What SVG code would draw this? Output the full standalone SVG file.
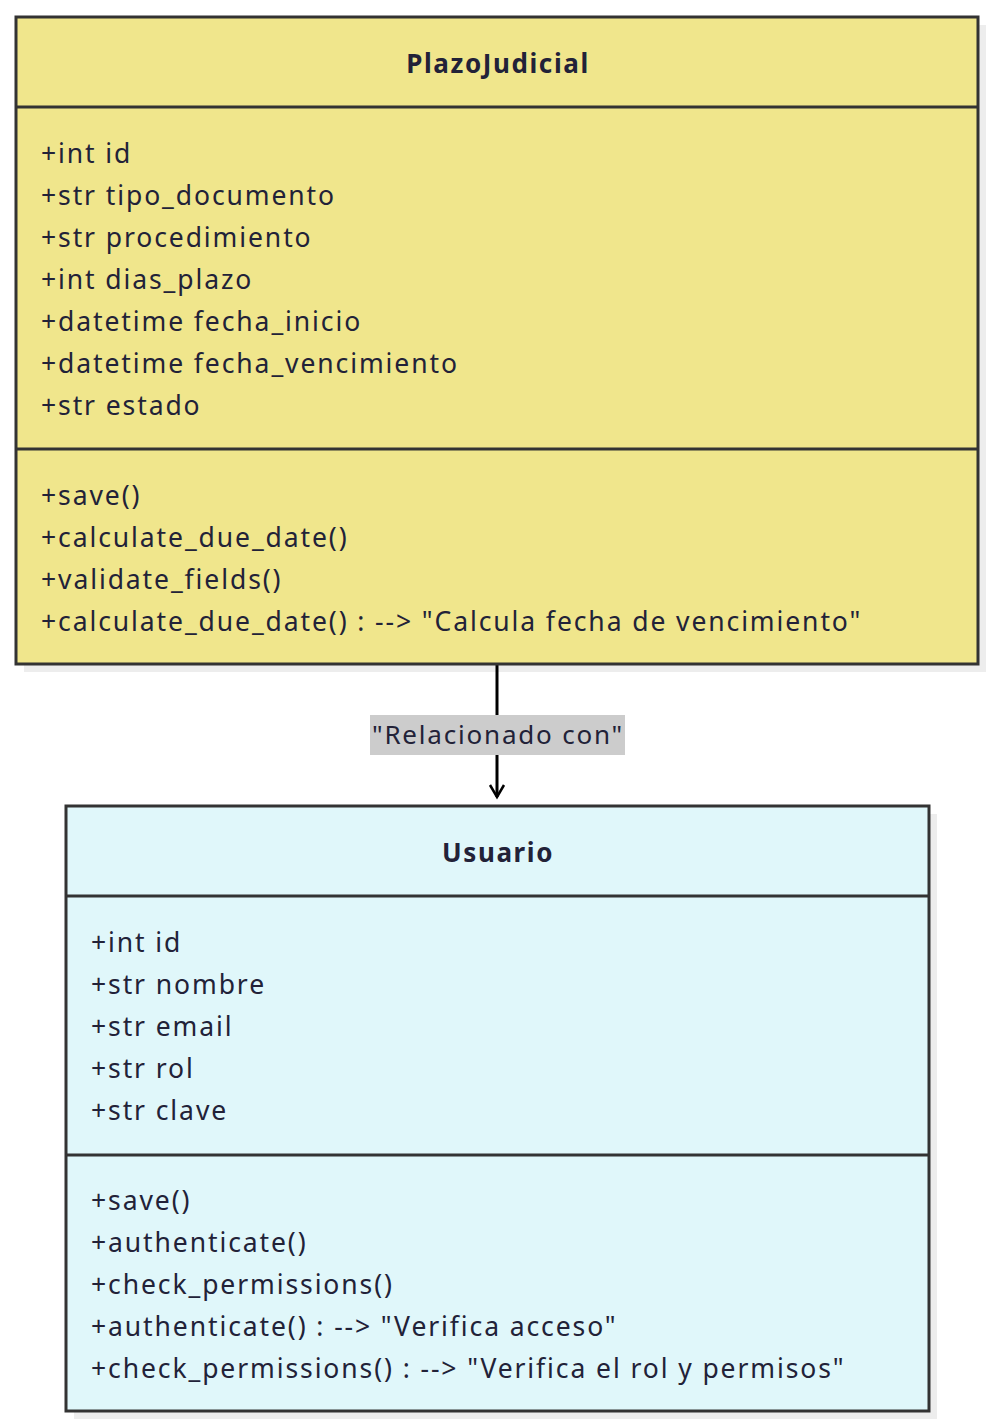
<svg xmlns="http://www.w3.org/2000/svg" width="995" height="1428" viewBox="0 0 995 1428">
<defs>
<marker id="arr" viewBox="0 0 20 20" refX="17" refY="10" markerWidth="20" markerHeight="20" markerUnits="userSpaceOnUse" orient="auto">
<path d="M5,3 L17,10 L5,17" fill="none" stroke="#000" stroke-width="2.5"/>
</marker>
</defs>
<style>
.shadow{fill:#000;opacity:0.07}
.box{stroke:#333;stroke-width:3}
.div{stroke:#333;stroke-width:3}
.t{font-family:"Noto Sans","Open Sans",sans-serif;font-size:26.5px;letter-spacing:1.9px;fill:#222238}
.lbl{font-family:"Noto Sans","Open Sans",sans-serif;font-size:26px;letter-spacing:1.8px;fill:#222238;text-anchor:middle}
.h{font-family:"Noto Sans","Open Sans",sans-serif;font-size:26px;letter-spacing:1.6px;font-weight:bold;fill:#222238;text-anchor:middle}
.edge{stroke:#000;stroke-width:3;fill:none}
</style>
<rect width="995" height="1428" fill="#fff"/>
<g id="connectors">
<line class="edge" x1="497" y1="664" x2="497" y2="797" marker-end="url(#arr)"/>
<rect x="370" y="715" width="255" height="40" fill="#cccccc"/>
<text class="lbl" x="498" y="744">"Relacionado con"</text>
</g>
<g id="PlazoJudicial">
<rect class="shadow" x="24" y="25" width="962" height="647"/>
<rect class="box" x="16" y="17" width="962" height="647" fill="#f0e68c"/>
<line class="div" x1="16" y1="107" x2="978" y2="107"/>
<line class="div" x1="16" y1="449" x2="978" y2="449"/>
<text class="h" x="498" y="73">PlazoJudicial</text>
<text class="t" x="41" y="163">+int id</text>
<text class="t" x="41" y="205">+str tipo_documento</text>
<text class="t" x="41" y="247">+str procedimiento</text>
<text class="t" x="41" y="289">+int dias_plazo</text>
<text class="t" x="41" y="331">+datetime fecha_inicio</text>
<text class="t" x="41" y="373">+datetime fecha_vencimiento</text>
<text class="t" x="41" y="415">+str estado</text>
<text class="t" x="41" y="505">+save()</text>
<text class="t" x="41" y="547">+calculate_due_date()</text>
<text class="t" x="41" y="589">+validate_fields()</text>
<text class="t" x="41" y="631">+calculate_due_date() : --&gt; "Calcula fecha de vencimiento"</text>
</g>
<g id="Usuario">
<rect class="shadow" x="74" y="814" width="863" height="605"/>
<rect class="box" x="66" y="806" width="863" height="605" fill="#e0f7fa"/>
<line class="div" x1="66" y1="896" x2="929" y2="896"/>
<line class="div" x1="66" y1="1155" x2="929" y2="1155"/>
<text class="h" x="498" y="862">Usuario</text>
<text class="t" x="91" y="952">+int id</text>
<text class="t" x="91" y="994">+str nombre</text>
<text class="t" x="91" y="1036">+str email</text>
<text class="t" x="91" y="1078">+str rol</text>
<text class="t" x="91" y="1120">+str clave</text>
<text class="t" x="91" y="1210">+save()</text>
<text class="t" x="91" y="1252">+authenticate()</text>
<text class="t" x="91" y="1294">+check_permissions()</text>
<text class="t" x="91" y="1336">+authenticate() : --&gt; "Verifica acceso"</text>
<text class="t" x="91" y="1378">+check_permissions() : --&gt; "Verifica el rol y permisos"</text>
</g>
</svg>
